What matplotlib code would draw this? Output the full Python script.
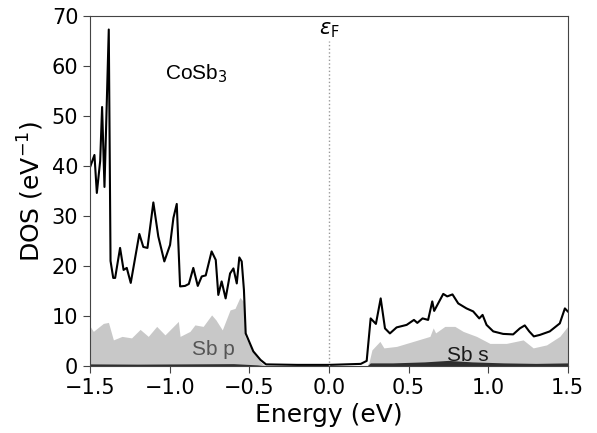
import matplotlib
matplotlib.use("Agg")
import matplotlib.pyplot as plt
import numpy as np

# total DOS (black line)
e_tot = [-1.5, -1.473, -1.458, -1.437, -1.425, -1.41, -1.383, -1.372, -1.355, -1.343,
         -1.312, -1.29, -1.27, -1.245, -1.191, -1.166, -1.14, -1.103, -1.072, -1.034,
         -0.998, -0.977, -0.956, -0.935, -0.904, -0.88, -0.852, -0.824, -0.799, -0.774,
         -0.737, -0.711, -0.695, -0.674, -0.649, -0.621, -0.6, -0.579, -0.563, -0.548,
         -0.534, -0.523, -0.475, -0.43, -0.395, -0.2, 0.0, 0.2, 0.237, 0.262, 0.295,
         0.325, 0.352, 0.383, 0.425, 0.488, 0.534, 0.555, 0.588, 0.623, 0.649, 0.661,
         0.686, 0.718, 0.743, 0.776, 0.812, 0.864, 0.906, 0.944, 0.965, 0.99, 1.032,
         1.094, 1.157, 1.199, 1.23, 1.258, 1.287, 1.325, 1.387, 1.45, 1.482, 1.5]
dos_tot = [39.8, 42.2, 34.6, 41.0, 51.8, 35.8, 67.3, 21.0, 17.6, 17.6,
           23.6, 19.2, 19.6, 16.6, 26.4, 23.8, 23.6, 32.7, 25.9, 20.9,
           24.2, 29.6, 32.4, 15.9, 16.0, 16.4, 19.6, 16.0, 17.9, 18.1,
           22.9, 21.2, 14.2, 16.9, 13.5, 18.5, 19.5, 16.5, 21.7, 20.9,
           15.2, 6.5, 2.9, 1.2, 0.3, 0.2, 0.2, 0.4, 1.0, 9.5, 8.4,
           13.5, 7.5, 6.5, 7.7, 8.2, 9.2, 8.6, 9.5, 9.2, 12.9, 11.0,
           12.5, 14.4, 13.9, 14.3, 12.5, 11.5, 10.9, 9.5, 10.2, 8.2, 6.9,
           6.4, 6.3, 7.5, 8.1, 6.9, 5.9, 6.2, 6.9, 8.5, 11.5, 10.9]

# Sb p projected DOS (grey fill)
e_sbp = [-1.5, -1.48, -1.417, -1.385, -1.354, -1.3, -1.24, -1.186, -1.135, -1.082,
         -1.03, -0.977, -0.946, -0.935, -0.873, -0.842, -0.79, -0.737, -0.71, -0.67,
         -0.621, -0.59, -0.559, -0.538, -0.527, -0.475, -0.43, -0.4, 0.24, 0.253, 0.27,
         0.32, 0.345, 0.425, 0.53, 0.634, 0.655, 0.67, 0.728, 0.791, 0.843, 0.927,
         1.011, 1.115, 1.22, 1.283, 1.367, 1.45, 1.5]
dos_sbp = [7.9, 6.9, 8.5, 8.7, 5.2, 5.9, 5.6, 7.3, 5.9, 7.9,
           6.2, 7.9, 8.9, 5.9, 6.9, 8.2, 7.9, 10.2, 9.2, 7.2,
           11.2, 11.5, 13.7, 12.9, 5.9, 2.7, 0.8, 0.0, 0.0, 0.9, 3.2,
           4.9, 3.6, 3.9, 4.9, 5.9, 7.6, 6.6, 7.9, 7.9, 6.9, 5.9,
           4.5, 4.5, 5.2, 3.6, 4.2, 5.9, 7.9]

# Sb s projected DOS (dark fill)
e_sbs = [-1.5, -1.2, -0.9, -0.6, -0.45, -0.4, 0.24, 0.26, 0.4, 0.6, 0.75, 0.9, 1.1, 1.3, 1.5]
dos_sbs = [0.4, 0.35, 0.4, 0.45, 0.2, 0.0, 0.0, 0.6, 0.6, 0.8, 1.1, 0.8, 0.6, 0.5, 0.6]

fig = plt.figure(figsize=(5.97, 4.33), dpi=100)
ax = fig.add_axes([0.151, 0.155, 0.8, 0.808])

ax.fill_between(e_sbp, 0, dos_sbp, color="#c8c8c8", lw=0)
ax.fill_between(e_sbs, 0, dos_sbs, color="#2e2e2e", lw=0)
ax.plot(e_tot, dos_tot, color="black", lw=1.5)
ax.axvline(0, ymax=0.93, color="#999999", ls=":", lw=1)

ax.text(0, 65.3, r"$\varepsilon_{\rm F}$", ha="center", va="bottom", fontsize=15)
ax.text(-1.03, 58.5, r"CoSb$_3$", fontsize=15, family="Liberation Sans", va="center")
ax.text(-0.86, 3.2, "Sb p", fontsize=15, family="Liberation Sans", color="#555555", va="center")
ax.text(0.74, 2.0, "Sb s", fontsize=15, family="Liberation Sans", color="#1a1a1a", va="center")

ax.set_xlim(-1.5, 1.5)
ax.set_ylim(0, 70)
ax.set_xticks([-1.5, -1.0, -0.5, 0.0, 0.5, 1.0, 1.5])
ax.set_yticks(range(0, 71, 10))
ax.tick_params(labelsize=15, length=5, color="#444444")
for s in ax.spines.values():
    s.set_color("#444444")
ax.set_xlabel("Energy (eV)", fontsize=18)
ax.set_ylabel(r"DOS (eV$^{-1}$)", fontsize=18)

fig.savefig("out.png", dpi=100)
